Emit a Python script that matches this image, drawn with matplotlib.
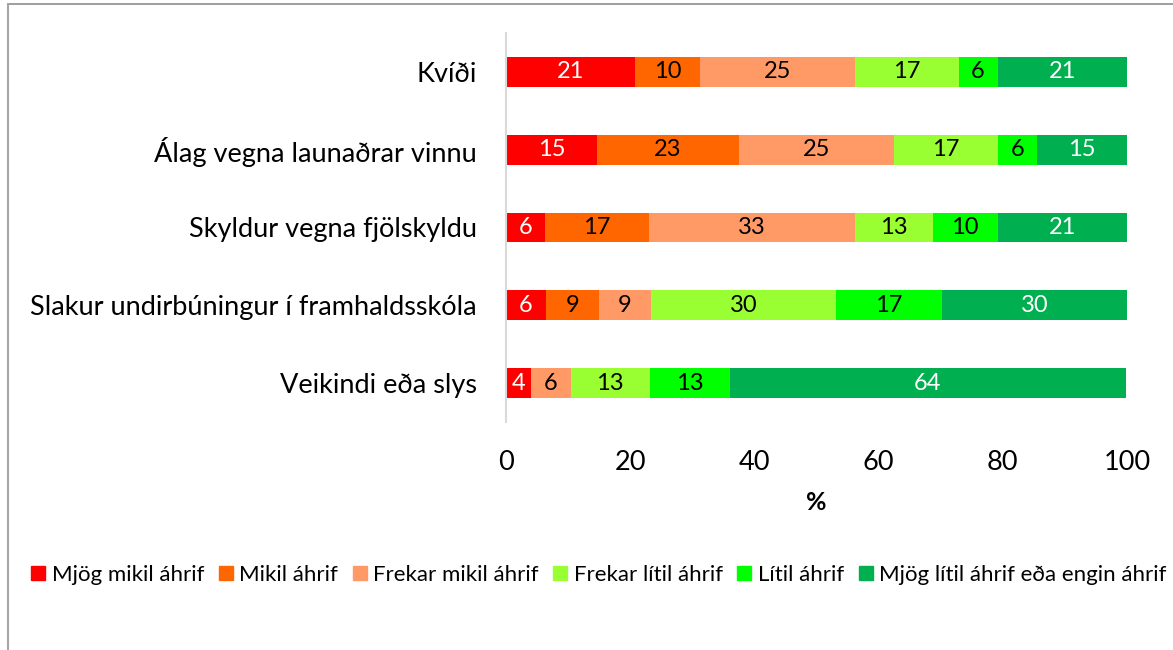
import matplotlib
matplotlib.use("Agg")
import matplotlib.pyplot as plt
from matplotlib.lines import Line2D
import numpy as np

plt.rcParams['font.family'] = ['Lato', 'DejaVu Sans']

categories = ["Kvíði", "Álag vegna launaðrar vinnu", "Skyldur vegna fjölskyldu",
              "Slakur undirbúningur í framhaldsskóla", "Veikindi eða slys"]
series_names = ["Mjög mikil áhrif", "Mikil áhrif", "Frekar mikil áhrif",
                "Frekar lítil áhrif", "Lítil áhrif", "Mjög lítil áhrif eða engin áhrif"]
# values per series, in category order
mjog_mikil = [20.8, 14.6, 6.25, 6.4, 4.0]
mikil = [10.4, 22.9, 16.7, 8.5, 0.0]
frekar_mikil = [25.0, 25.0, 33.3, 8.5, 6.4]
frekar_litil = [16.7, 16.7, 12.5, 29.8, 12.8]
litil = [6.25, 6.25, 10.4, 17.0, 12.8]
mjog_litil = [20.8, 14.6, 20.8, 29.8, 63.8]
x_ticks = [0, 20, 40, 60, 80, 100]

series = [mjog_mikil, mikil, frekar_mikil, frekar_litil, litil, mjog_litil]
colors = ["#FF0000", "#FF6600", "#FF9966", "#99FF33", "#00FF00", "#00B050"]
text_colors = ["white", "black", "black", "black", "black", "white"]

fig = plt.figure(figsize=(11.73, 6.5), dpi=100)
ax = fig.add_axes([506/1173, 1-422/650, (1127-506)/1173, 389/650])

y = np.arange(len(categories))
left = np.zeros(len(categories))
for vals, c, tc, name in zip(series, colors, text_colors, series_names):
    vals = np.array(vals)
    ax.barh(y, vals, left=left, height=0.385, color=c, label=name)
    for yi, l, v in zip(y, left, vals):
        if v > 0:
            ax.text(l + v/2, yi, str(int(np.floor(v + 0.5))), ha="center", va="center",
                    color=tc, fontsize=17)
    left += vals

ax.set_ylim(len(categories)-0.5, -0.5)
ax.set_xlim(0, 100)
ax.set_yticks(y)
ax.set_yticklabels(categories, fontsize=19.5)
ax.set_xticks(x_ticks)
ax.set_xticklabels([str(t) for t in x_ticks], fontsize=19.5)
ax.tick_params(length=0)
ax.tick_params(axis='y', pad=21)
ax.tick_params(axis='x', pad=20)
ax.set_xlabel("%", fontsize=18, fontweight="bold", labelpad=12)
for s in ["top", "right", "bottom"]:
    ax.spines[s].set_visible(False)
ax.spines["left"].set_color("#D9D9D9")
ax.spines["left"].set_linewidth(1.5)

handles = [Line2D([0], [0], marker="s", linestyle="none", markersize=10,
                  markerfacecolor=c, markeredgecolor=c) for c in colors]
fig.legend(handles, series_names, loc="center", bbox_to_anchor=(599/1173, 1-575/650),
           ncol=6, frameon=False, fontsize=16, handletextpad=0.3,
           columnspacing=0.68, handlelength=0.6, borderpad=0, borderaxespad=0)

# chart border
fig.add_artist(Line2D([8/1173, 1], [1-4/650, 1-4/650], color="#8C8C8C", lw=1.2))
fig.add_artist(Line2D([8/1173, 8/1173], [0, 1-4/650], color="#A6A6A6", lw=1.5))

fig.savefig("out.png", dpi=100)
